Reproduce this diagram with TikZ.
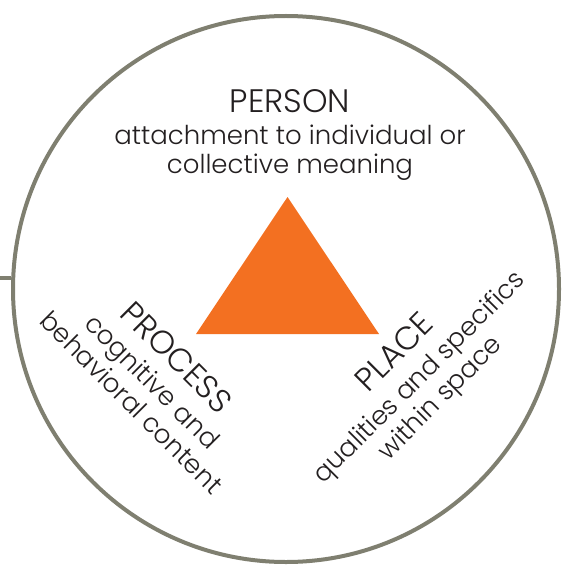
\documentclass[tikz,border=0pt]{standalone}
\usepackage{fontspec}
\setmainfont{Poppins Light}
\definecolor{ringgray}{RGB}{127,127,112}
\definecolor{tri}{RGB}{243,112,33}
\definecolor{ink}{RGB}{35,31,32}
\newcommand{\headfont}{\fontsize{32.5}{36}\selectfont}
\begin{document}
\begin{tikzpicture}[x=1pt,y=-1pt,
  lbl/.style={text=ink,align=center,inner sep=0pt,font=\fontsize{26}{29.5}\selectfont}]
\useasboundingbox (0,0) rectangle (564,567);
\node[circle,draw=ringgray,line width=4pt,minimum size=546pt,inner sep=0pt] (ring) at (286,289) {};
\coordinate (lend) at (0,278);
\draw[ringgray,line width=4pt] (lend) -- (ring.west |- lend);
\coordinate (apex) at (287.5,197);
\coordinate (bl) at (196,334);
\coordinate (br) at (379,334);
\fill[tri] (apex) -- (bl) -- (br) -- cycle;
\node[lbl] (person) at (290,135) {{\headfont PERSON}\\[2pt]attachment to individual or\\collective meaning};
\node[lbl,rotate=-45] (process) at (155,379) {{\headfont PROCESS}\\[3pt]cognitive and\\behavioral content};
\node[lbl,rotate=45] (place) at (418,376) {{\headfont PLACE}\\[3pt]qualities and specifics\\within space};
\end{tikzpicture}
\end{document}
